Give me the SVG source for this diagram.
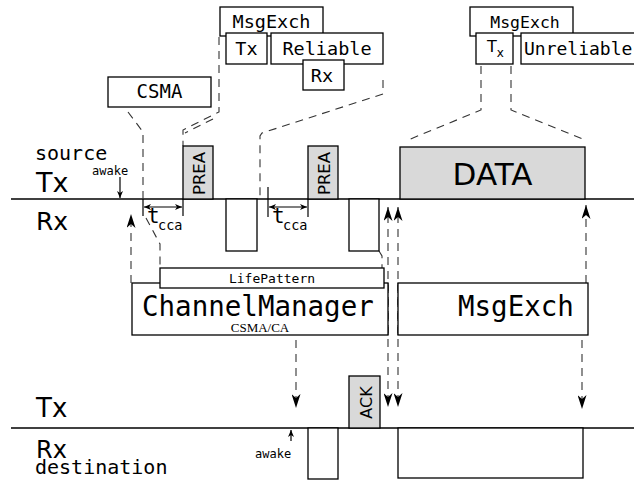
<svg xmlns="http://www.w3.org/2000/svg" width="634" height="482" viewBox="0 0 634 482">
<defs>
<style>
.box{fill:#fff;stroke:#000;stroke-width:1.3}
.gray{fill:#d9d9d9;stroke:#000;stroke-width:1.3}
.tl{stroke:#000;stroke-width:1.4;fill:none}
.tick{stroke:#000;stroke-width:1.2;fill:none}
.dash{fill:none;stroke:#333;stroke-width:1.1;stroke-dasharray:8 6}
.mono{font-family:"DejaVu Sans Mono",monospace;fill:#000}
.sans{font-family:"DejaVu Sans",sans-serif;fill:#000}
.serif{font-family:"Liberation Serif",serif;fill:#000}
</style>
<marker id="stealth" markerUnits="userSpaceOnUse" markerWidth="15" markerHeight="9" refX="14" refY="4.5" orient="auto" viewBox="0 0 15 9">
<path d="M0,0 L14,4.5 L0,9 L4,4.5 Z" fill="#000"/>
</marker>
<marker id="small" markerUnits="userSpaceOnUse" markerWidth="8" markerHeight="6" refX="7" refY="3" orient="auto" viewBox="0 0 8 6">
<path d="M0,0 L7,3 L0,6 L2,3 Z" fill="#000"/>
</marker>
<marker id="smallstart" markerUnits="userSpaceOnUse" markerWidth="8" markerHeight="6" refX="1" refY="3" orient="auto" viewBox="0 0 8 6">
<path d="M8,0 L1,3 L8,6 L6,3 Z" fill="#000"/>
</marker>
</defs>

<g id="timelines">
<line class="tl" x1="11" y1="199" x2="634" y2="199"/>
<line class="tl" x1="11" y1="428" x2="634" y2="428"/>
</g>

<g id="connectors">
<path class="dash" d="M128,112 L143,132 L143,199"/>
<path class="dash" d="M146,218 L160,244 L160,268"/>
<path class="dash" d="M219,37 L219,112 L183,130 L183,146"/>
<path class="dash" d="M213,119 L185,133"/>
<path class="dash" d="M383,80 L383,94 L262,133 L260,136 L260,199"/>
<path class="dash" d="M379,251 L382,256 L382,268"/>
<path class="dash" d="M481,66 L481,110 L408,140"/>
<path class="dash" d="M511,66 L511,110 L583,139"/>
<path class="dash" d="M131,283 L131,214" marker-end="url(#stealth)"/>
<path class="dash" d="M388,335 L388,207" marker-end="url(#stealth)"/>
<path class="dash" d="M398,335 L398,207" marker-end="url(#stealth)"/>
<path class="dash" d="M388,283 L388,407" marker-end="url(#stealth)"/>
<path class="dash" d="M398,283 L398,407" marker-end="url(#stealth)"/>
<path class="dash" d="M586,283 L586,205" marker-end="url(#stealth)"/>
<path class="dash" d="M296,340 L296,408" marker-end="url(#stealth)"/>
<path class="dash" d="M582,340 L582,409" marker-end="url(#stealth)"/>
<line class="tick" x1="120" y1="177" x2="120" y2="198" marker-end="url(#small)"/>
<line class="tick" x1="291" y1="441" x2="291" y2="430" marker-end="url(#small)"/>
<line class="tick" x1="143" y1="199" x2="143" y2="216"/>
<line class="tick" x1="183" y1="199" x2="183" y2="216"/>
<line class="tick" x1="144" y1="207" x2="182" y2="207" marker-start="url(#smallstart)" marker-end="url(#small)"/>
<line class="tick" x1="268" y1="187" x2="268" y2="217"/>
<line class="tick" x1="308" y1="199" x2="308" y2="217"/>
<line class="tick" x1="269" y1="207" x2="307" y2="207" marker-start="url(#smallstart)" marker-end="url(#small)"/>
</g>

<g id="labels">
<text class="mono" x="35" y="160" font-size="20">source</text>
<text class="sans" x="36" y="192" font-size="27">Tx</text>
<text class="mono" x="92" y="175" font-size="12">awake</text>
<text class="sans" x="36" y="230" font-size="25">Rx</text>
<text class="sans" x="36" y="417" font-size="26">Tx</text>
<text class="sans" x="36" y="458" font-size="24">Rx</text>
<text class="mono" x="35" y="474" font-size="20">destination</text>
<text class="mono" x="255" y="458" font-size="12">awake</text>
<text class="mono" x="147" y="223" font-size="21">t</text>
<text class="mono" x="158" y="230" font-size="13.5">cca</text>
<text class="mono" x="272" y="223" font-size="21">t</text>
<text class="mono" x="283" y="230" font-size="13.5">cca</text>
</g>

<g id="csma">
<rect class="box" x="108" y="77" width="103" height="30"/>
<text class="mono" x="159.5" y="98" font-size="19" text-anchor="middle">CSMA</text>
</g>

<g id="msgexch-reliable">
<rect class="box" x="220" y="7" width="103" height="29"/>
<text class="mono" x="271.5" y="28" font-size="18.5" text-anchor="middle">MsgExch</text>
</g>
<g id="tx-reliable">
<rect class="box" x="226" y="33" width="41" height="31"/>
<text class="mono" x="246.5" y="55" font-size="18.5" text-anchor="middle">Tx</text>
</g>
<g id="reliable">
<rect class="box" x="271" y="33" width="112" height="31"/>
<text class="mono" x="327" y="55" font-size="18.5" text-anchor="middle">Reliable</text>
</g>
<g id="rx-reliable">
<rect class="box" x="303" y="60" width="41" height="30"/>
<text class="mono" x="322" y="82" font-size="18.5" text-anchor="middle">Rx</text>
</g>

<g id="msgexch-unreliable">
<rect class="box" x="470" y="7" width="103" height="29"/>
<text class="mono" x="525" y="28" font-size="16.5" text-anchor="middle">MsgExch</text>
</g>
<g id="tx-unreliable">
<rect class="box" x="476" y="33" width="37" height="31"/>
<text class="sans" x="487" y="52" font-size="16">T<tspan font-size="12" dy="5">x</tspan></text>
</g>
<g id="unreliable">
<rect class="box" x="521" y="33" width="120" height="31"/>
<text class="mono" x="524" y="55" font-size="18">Unreliable</text>
</g>

<g id="prea1">
<rect class="gray" x="183" y="146" width="30" height="53"/>
<text class="sans" transform="translate(204.5,173.5) rotate(-90)" font-size="16.5" text-anchor="middle">PREA</text>
</g>
<g id="rx-slot1">
<rect class="box" x="226" y="199" width="31" height="52"/>
</g>
<g id="prea2">
<rect class="gray" x="308" y="146" width="30" height="53"/>
<text class="sans" transform="translate(329.5,173.5) rotate(-90)" font-size="16.5" text-anchor="middle">PREA</text>
</g>
<g id="rx-slot2">
<rect class="box" x="349" y="199" width="30" height="52"/>
</g>
<g id="data">
<rect class="gray" x="400" y="147" width="185" height="52"/>
<text class="sans" x="492.5" y="185" font-size="31" text-anchor="middle">DATA</text>
</g>

<g id="channelmanager">
<rect class="box" x="132" y="283" width="256" height="52"/>
<text class="mono" x="142" y="316" font-size="27.5">ChannelManager</text>
<text class="serif" x="260" y="332" font-size="13" text-anchor="middle">CSMA/CA</text>
</g>
<g id="lifepattern">
<rect class="box" x="160" y="268" width="224" height="20"/>
<text class="mono" x="272" y="283" font-size="13" text-anchor="middle">LifePattern</text>
</g>
<g id="msgexch">
<rect class="box" x="398" y="283" width="190" height="52"/>
<text class="mono" x="458" y="316" font-size="27.5">MsgExch</text>
</g>

<g id="ack">
<rect class="gray" x="349" y="376" width="31" height="52"/>
<text class="sans" transform="translate(371.5,402.5) rotate(-90)" font-size="16" text-anchor="middle">ACK</text>
</g>
<g id="dest-slot1">
<rect class="box" x="308" y="428" width="30" height="51"/>
</g>
<g id="dest-slot2">
<rect class="box" x="398" y="428" width="185" height="50"/>
</g>
</svg>
